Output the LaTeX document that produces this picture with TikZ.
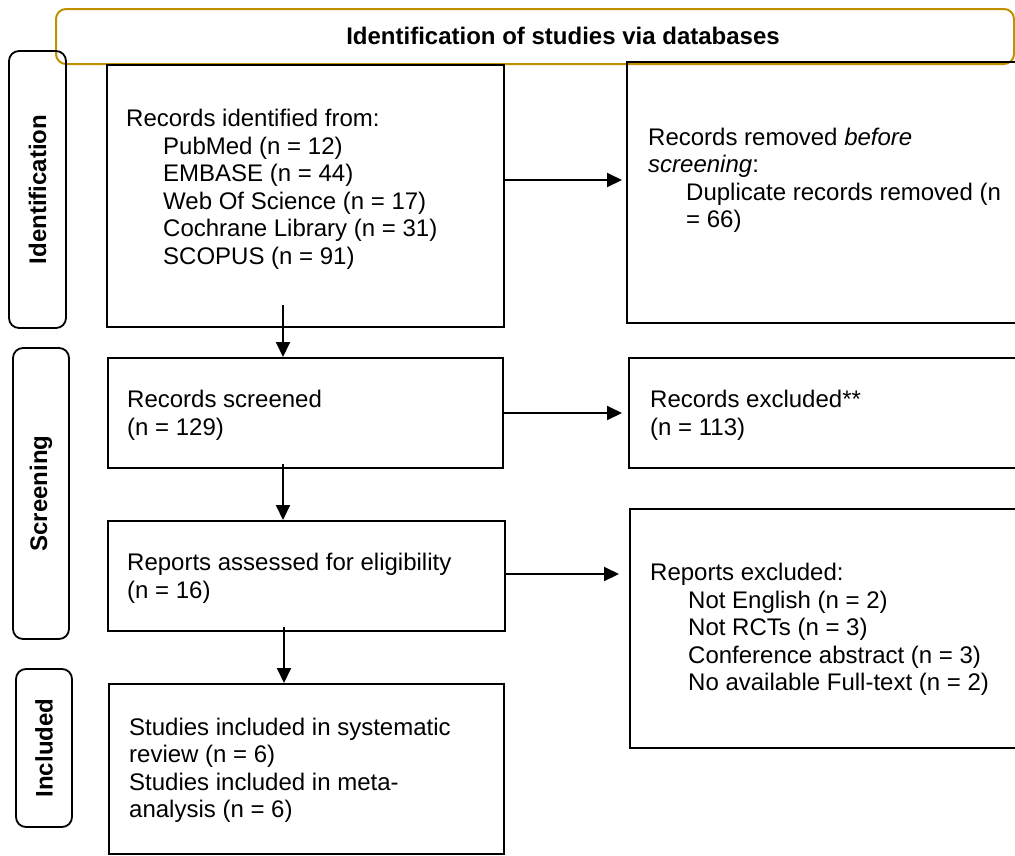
\documentclass[tikz,border=0pt]{standalone}
\usepackage{fontspec}
\setmainfont{Liberation Sans}
\usetikzlibrary{arrows.meta}
\definecolor{gold}{HTML}{BF9000}
\begin{document}
\begin{tikzpicture}[x=1pt,y=-1pt,
  box/.style={draw=black, line width=2pt, rectangle, inner sep=0pt, anchor=north west},
  side/.style={draw=black, line width=1.8pt, rounded corners=10pt, inner sep=0pt,
    font=\fontsize{24}{27.5}\selectfont\bfseries, rotate=90},
  txt/.style={anchor=north west, align=left, inner sep=0pt, font=\fontsize{24}{27.5}\selectfont},
  arr/.style={line width=2pt, -{Triangle[length=15pt,width=14pt]}}]
\useasboundingbox (0,0) rectangle (1015,855);

% banner
\node[draw=gold, line width=2pt, rounded corners=10pt, anchor=north west,
  minimum width=958pt, minimum height=55pt, inner sep=0pt] (ban) at (55,8) {};
\node[font=\fontsize{24}{27.5}\selectfont\bfseries, inner sep=0pt] (bantxt) at (563,36) {Identification of studies via databases};

% side labels
\node[side, minimum width=277pt, minimum height=57pt] (s1) at (37.5,189.5) {Identification};
\node[side, minimum width=291pt, minimum height=56pt] (s2) at (41,493.5) {Screening};
\node[side, minimum width=158pt, minimum height=56pt] (s3) at (44,748) {Included};

% boxes
\node[box, minimum width=397pt, minimum height=262pt] (b1) at (106,64) {};
\node[box, minimum width=420pt, minimum height=261pt] (b2) at (626,61) {};
\node[box, minimum width=395pt, minimum height=110pt] (b3) at (107,357) {};
\node[box, minimum width=420pt, minimum height=110pt] (b4) at (628,357) {};
\node[box, minimum width=397pt, minimum height=110pt] (b5) at (107,520) {};
\node[box, minimum width=420pt, minimum height=239pt] (b6) at (629,508) {};
\node[box, minimum width=395pt, minimum height=170pt] (b7) at (108,683) {};

% texts
\node[txt] (t1) at (126,109) {Records identified from:\\
\hspace*{37pt}PubMed (n = 12)\\
\hspace*{37pt}EMBASE (n = 44)\\
\hspace*{37pt}Web Of Science (n = 17)\\
\hspace*{37pt}Cochrane Library (n = 31)\\
\hspace*{37pt}SCOPUS (n = 91)};
\node[txt] (t2) at (648,127.5) {Records removed \textit{before}\\
\textit{screening}:\\
\hspace*{38pt}Duplicate records removed (n\\
\hspace*{38pt}= 66)};
\node[txt] (t3) at (127,390) {Records screened\\(n = 129)};
\node[txt] (t4) at (650,390) {Records excluded**\\(n = 113)};
\node[txt] (t5) at (127,553) {Reports assessed for eligibility\\(n = 16)};
\node[txt] (t6) at (650,563) {Reports excluded:\\
\hspace*{38pt}Not English (n = 2)\\
\hspace*{38pt}Not RCTs (n = 3)\\
\hspace*{38pt}Conference abstract (n = 3)\\
\hspace*{38pt}No available Full-text (n = 2)};
\node[txt] (t7) at (129,717.5) {Studies included in systematic\\
review (n = 6)\\
Studies included in meta-\\
analysis (n = 6)};

% arrows
\draw[arr, shorten >=4pt] ([yshift=16pt]b1.east) coordinate (h1) -- (h1 -| b2.west);
\draw[arr, shorten >=6pt] (b3.east) coordinate (h2) -- (h2 -| b4.west);
\draw[arr, shorten >=10pt] ([yshift=2pt]b5.east) coordinate (h3) -- (h3 -| b6.west);
\draw[arr] ([xshift=-22.5pt,yshift=23pt]b1.south) coordinate (v1) -- (v1 |- b3.north);
\draw[arr] ([xshift=-22.5pt,yshift=5pt]b3.south) coordinate (v2) -- (v2 |- b5.north);
\draw[arr] ([xshift=-22.5pt,yshift=5pt]b5.south) coordinate (v3) -- (v3 |- b7.north);
\end{tikzpicture}
\end{document}
